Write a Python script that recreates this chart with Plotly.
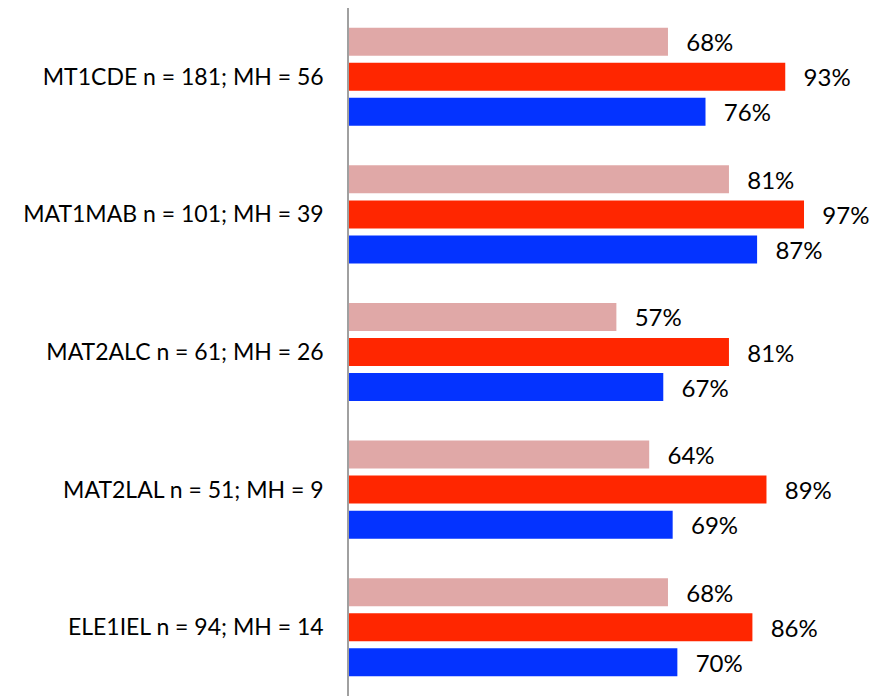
import plotly.graph_objects as go

categories = ["MT1CDE n = 181; MH = 56", "MAT1MAB n = 101; MH = 39",
              "MAT2ALC n = 61; MH = 26", "MAT2LAL n = 51; MH = 9",
              "ELE1IEL n = 94; MH = 14"]
series_pink = [68, 81, 57, 64, 68]
series_red = [93, 97, 81, 89, 86]
series_blue = [76, 87, 67, 69, 70]
colors = ["#E0A8A7", "#FF2600", "#0433FF"]
series = [series_pink, series_red, series_blue]
names = ["A", "B", "C"]

FONT = "Lato, 'Open Sans', sans-serif"
PAD = "\u00a0" * 2 + "\u2009"
fig = go.Figure()
for vals, c, n in zip(series, colors, names):
    fig.add_trace(go.Bar(
        y=categories, x=vals, orientation="h", name=n,
        marker=dict(color=c, line=dict(width=0)),
        text=[f"{PAD}{v}%" for v in vals], textposition="outside",
        textfont=dict(family=FONT, size=24, color="#000000"),
        cliponaxis=False,
    ))

fig.update_layout(
    width=881, height=688,
    margin=dict(l=341, r=9, t=0, b=0, autoexpand=False),
    barmode="group", bargap=0.236, bargroupgap=0.2,
    showlegend=False,
    plot_bgcolor="white", paper_bgcolor="white",
    uniformtext=dict(minsize=24, mode="show"),
)
fig.update_xaxes(range=[0, 113.2], visible=False, showgrid=False, automargin=False)
fig.update_yaxes(autorange="reversed", showline=True, linecolor="#A0A0A0",
                 linewidth=1.5, ticks="", ticklabelstandoff=19, automargin=False,
                 tickfont=dict(family=FONT, size=23, color="#000000"),
                 showgrid=False)
fig.write_html("out.html")
